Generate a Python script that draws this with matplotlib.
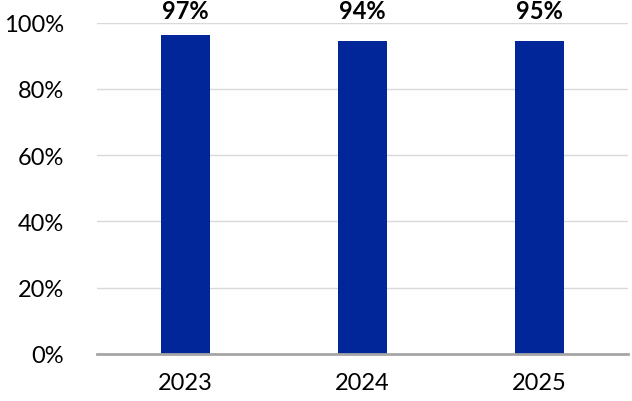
import matplotlib.pyplot as plt
from matplotlib.ticker import PercentFormatter

years = ["2023", "2024", "2025"]
values = [96.2, 94.4, 94.4]
value_labels = ["97%", "94%", "95%"]

plt.rcParams['font.family'] = ['Lato', 'DejaVu Sans']

fig = plt.figure(figsize=(6.32, 4.02), dpi=100)
ax = fig.add_axes([0.1535, 0.117, 0.8405, 0.8245])

x = range(len(years))
bars = ax.bar(x, values, width=0.28, color='#00269A', zorder=3)

# value labels sit above the plot area, as in the source chart
for rect, lab in zip(bars, value_labels):
    ax.text(rect.get_x() + rect.get_width() / 2, 103.5, lab,
            ha='center', va='center', fontsize=17, fontweight='bold',
            color='black', clip_on=False)

ax.set_xlim(-0.5, len(years) - 0.5)
ax.set_ylim(0, 100)
ax.set_yticks([0, 20, 40, 60, 80, 100])
ax.yaxis.set_major_formatter(PercentFormatter(decimals=0))
ax.set_xticks(list(x))
ax.set_xticklabels(years)

ax.grid(axis='y', color='#D9D9D9', linewidth=1, zorder=0)
for side in ['top', 'right', 'left']:
    ax.spines[side].set_visible(False)
ax.spines['bottom'].set_color('#A6A6A6')
ax.spines['bottom'].set_linewidth(2)
ax.spines['bottom'].set_zorder(4)
ax.tick_params(axis='both', length=0, labelsize=17, colors='black')
ax.tick_params(axis='x', pad=13)
ax.tick_params(axis='y', pad=24)

fig.savefig("out.png", dpi=100)
